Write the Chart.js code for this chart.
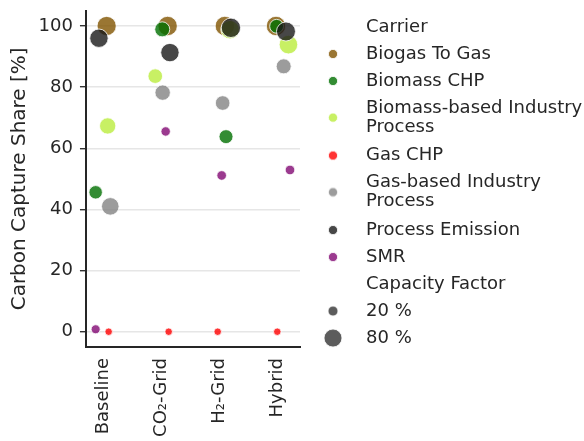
<!DOCTYPE html>
<html><head><meta charset="utf-8">
<script src="https://cdn.jsdelivr.net/npm/chart.js@4.4.1/dist/chart.umd.min.js"></script>
<style>html,body{margin:0;padding:0;background:#fff;overflow:hidden}</style>
</head><body>
<canvas id="c" width="584" height="441"></canvas>
<script>
// ---------- data ----------
const scenarios = ['Baseline', 'CO\u2082-Grid', 'H\u2082-Grid', 'Hybrid'];
const carriers = ['Biogas To Gas', 'Biomass CHP', 'Biomass-based Industry Process', 'Gas CHP',
                  'Gas-based Industry Process', 'Process Emission', 'SMR'];
// carbon capture share [%] per scenario
const shareBiogasToGas   = [100, 100, 100, 100];
const shareBiomassCHP    = [45.6, 98.9, 63.8, 99.9];
const shareBiomassInd    = [67.3, 83.6, 98.8, 93.9];
const shareGasCHP        = [0, 0, 0, 0];
const shareGasInd        = [41.0, 78.2, 74.8, 86.8];
const shareProcessEm     = [96.0, 91.3, 99.4, 98.2];
const shareSMR           = [0.8, 65.5, 51.1, 52.9];
// capacity factor [%] per scenario
const cfBiogasToGas = [92, 94, 94, 94];
const cfBiomassCHP  = [42, 54, 46, 45];
const cfBiomassInd  = [65, 51, 85, 86];
const cfGasCHP      = [8, 8, 8, 8];
const cfGasInd      = [76, 57, 51, 54];
const cfProcessEm   = [84, 84, 94, 90];
const cfSMR         = [15, 17, 18, 18];
// strip-plot jitter (category units)
const jitBiogasToGas = [0.055, 0.11, 0.10, -0.015];
const jitBiomassCHP  = [-0.135, 0.017, 0.12, -0.005];
const jitBiomassInd  = [0.073, -0.104, 0.19, 0.20];
const jitGasCHP      = [0.09, 0.128, -0.024, 0.007];
const jitGasInd      = [0.118, 0.024, 0.062, 0.118];
const jitProcessEm   = [-0.078, 0.15, 0.205, 0.157];
const jitSMR         = [-0.135, 0.076, 0.045, 0.227];
const sizeLegendValues = [20, 80];
const yTickValues = [0, 20, 40, 60, 80, 100];

// ---------- styles ----------
const baseColors = ['#815400', '#006f00', '#baec3d', '#ff0000', '#838383', '#191919', '#820973'];
const ALPHA = 0.8;
function rgba(hex, a) {
  const n = parseInt(hex.slice(1), 16);
  return `rgba(${(n >> 16) & 255},${(n >> 8) & 255},${n & 255},${a})`;
}
const sizeOf = cf => Math.sqrt(10 + cf) - 0.5;
const EDGE = 'rgba(255,255,255,0.8)';
const TXT = '#262626';

Chart.defaults.font.family = 'DejaVu Sans';
Chart.defaults.color = TXT;

const shares = [shareBiogasToGas, shareBiomassCHP, shareBiomassInd, shareGasCHP, shareGasInd, shareProcessEm, shareSMR];
const cfs = [cfBiogasToGas, cfBiomassCHP, cfBiomassInd, cfGasCHP, cfGasInd, cfProcessEm, cfSMR];
const jits = [jitBiogasToGas, jitBiomassCHP, jitBiomassInd, jitGasCHP, jitGasInd, jitProcessEm, jitSMR];

const datasets = carriers.map((name, s) => ({
  label: name,
  data: scenarios.map((sc, i) => ({x: i + jits[s][i], y: shares[s][i]})),
  backgroundColor: rgba(baseColors[s], ALPHA),
  borderColor: EDGE,
  borderWidth: 1,
  pointRadius: ctx => sizeOf(cfs[s][ctx.dataIndex]),
  pointHoverRadius: ctx => sizeOf(cfs[s][ctx.dataIndex]),
  order: carriers.length - s
}));

// ---------- legend markers ----------
function dot(color, r, dy) {
  dy = dy || 0;
  const c = document.createElement('canvas');
  const hw = Math.ceil(r + 2);
  const hh = Math.ceil(r + 2 + Math.abs(dy));
  c.width = 2 * hw; c.height = 2 * hh;
  if (r > 0) {
    const g = c.getContext('2d');
    g.beginPath(); g.arc(hw, hh + dy, r, 0, Math.PI * 2);
    g.fillStyle = color; g.fill();
    g.lineWidth = 1; g.strokeStyle = EDGE; g.stroke();
  }
  return c;
}
const LEG_FONT = 18, LEG_LH = 1.07;
function wrap(name) {
  return name.length > 20 ? name.replace(/ Process$/, '\nProcess').split('\n') : name;
}
const legendItems = [];
legendItems.push({text: 'Carrier', pointStyle: dot('transparent', 0)});
carriers.forEach((name, s) => {
  const t = wrap(name);
  const multi = Array.isArray(t);
  legendItems.push({text: t, pointStyle: dot(rgba(baseColors[s], ALPHA), 4.6, multi ? LEG_FONT * LEG_LH / 2 : 0)});
});
legendItems.push({text: 'Capacity Factor', pointStyle: dot('transparent', 0)});
sizeLegendValues.forEach(v => {
  legendItems.push({text: v + ' %', pointStyle: dot(rgba('#333333', ALPHA), sizeOf(v))});
});
legendItems.forEach(it => Object.assign(it, {fillStyle: 'transparent', strokeStyle: 'transparent', lineWidth: 0, hidden: false}));

new Chart(document.getElementById('c'), {
  type: 'scatter',
  data: {datasets},
  options: {
    responsive: false,
    animation: false,
    devicePixelRatio: 1,
    events: [],
    layout: {padding: {top: 3, left: 0, right: 0, bottom: 0}},
    scales: {
      x: {
        type: 'linear',
        min: -0.3028, max: 3.40,
        afterBuildTicks: s => { s.ticks = scenarios.map((_, i) => ({value: i})); },
        afterFit: s => { s.height = 94; },
        grid: {display: false, drawTicks: false},
        border: {display: true, color: TXT, width: 2},
        ticks: {
          autoSkip: false, minRotation: 90, maxRotation: 90, padding: 11,
          color: TXT, font: {size: 18},
          callback: v => scenarios[v]
        }
      },
      y: {
        type: 'linear',
        min: -5, max: 105,
        afterBuildTicks: s => { s.ticks = yTickValues.map(v => ({value: v})); },
        afterFit: s => { s.paddingTop = 0; s.paddingBottom = 0; },
        grid: {color: '#e6e6e6', lineWidth: 1.4, tickLength: 6, tickColor: '#333333', tickWidth: 1.4},
        border: {display: true, color: TXT, width: 2},
        ticks: {padding: 7, color: TXT, font: {size: 18}},
        title: {display: true, text: 'Carbon Capture Share [%]', color: TXT,
                font: {size: 20}, padding: {top: 7.6, bottom: 0}}
      }
    },
    plugins: {
      tooltip: {enabled: false},
      legend: {
        position: 'right',
        align: 'start',
        maxWidth: 284,
        title: {display: true, text: ' ', font: {size: 1, lineHeight: 1}, padding: {top: 5, bottom: 0}},
        labels: {
          usePointStyle: true,
          pointStyleWidth: 48,
          padding: 9,
          color: TXT,
          font: {size: LEG_FONT, lineHeight: LEG_LH},
          generateLabels: () => legendItems
        }
      }
    }
  }
});
</script>
</body></html>
